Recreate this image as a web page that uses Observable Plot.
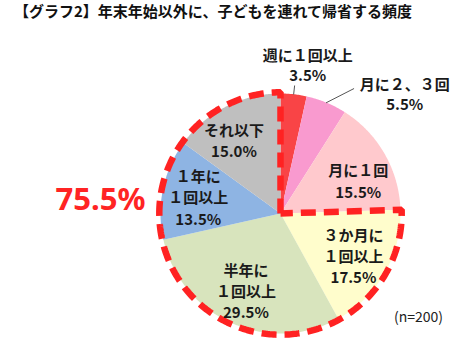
<!DOCTYPE html>
<html>
<head>
<meta charset="utf-8">
<script src="https://cdn.jsdelivr.net/npm/d3@7"></script>
<script src="https://cdn.jsdelivr.net/npm/@observablehq/plot@0.6"></script>
<style>
  html, body { margin: 0; padding: 0; background: #fff; }
  #title { height: 40px; line-height: 44px; padding-left: 14px; font: bold 15px "Noto Sans CJK JP", sans-serif; color: #111; white-space: nowrap; }
  #chart svg { display: block; }
</style>
</head>
<body>
<div id="title">【グラフ2】年末年始以外に、子どもを連れて帰省する頻度</div>
<div id="chart"></div>
<script>
// ---- data ----
const categories = ["週に1回以上", "月に2、3回", "月に1回", "3か月に1回以上", "半年に1回以上", "1年に1回以上", "それ以下"];
const labelTexts = ["週に１回以上", "月に２、３回", "月に１回", "３か月に\n１回以上", "半年に\n１回以上", "１年に\n１回以上", "それ以下"];
const values = [3.5, 5.5, 15.5, 17.5, 29.5, 13.5, 15.0];
const colors = ["#F94446", "#F99ACF", "#FFC9CD", "#FFFDCC", "#D8E4BD", "#8EB4E3", "#BFBFBF"];
const highlightedCategories = ["3か月に1回以上", "半年に1回以上", "1年に1回以上", "それ以下"];
const sampleNote = "(n=200)";

// ---- geometry helpers ----
const total = d3.sum(values);
const toRad = (p) => (p / total) * 2 * Math.PI; // clockwise from 12 o'clock
const pt = (a, r) => ({x: r * Math.sin(a), y: r * Math.cos(a)});

let cum = 0;
const slices = values.map((v, i) => {
  const a0 = toRad(cum); cum += v; const a1 = toRad(cum);
  return {cat: categories[i], label: labelTexts[i], value: v, a0, a1, mid: (a0 + a1) / 2};
});

const slicePoints = [];
for (const s of slices) {
  slicePoints.push({cat: s.cat, ...pt(0, 0)});
  const n = Math.max(4, Math.ceil((s.a1 - s.a0) / 0.01));
  for (let k = 0; k <= n; k++) slicePoints.push({cat: s.cat, ...pt(s.a0 + (s.a1 - s.a0) * k / n, 1)});
  slicePoints.push({cat: s.cat, ...pt(0, 0)});
}

// dashed outline around the highlighted share
const hl = slices.filter(s => highlightedCategories.includes(s.cat));
const hlStart = d3.min(hl, s => s.a0), hlEnd = d3.max(hl, s => s.a1);
const hlShare = d3.sum(hl, s => s.value);
const outline = [pt(0, 0)];
{
  const R = 1.01, n = 300;
  for (let k = 0; k <= n; k++) outline.push(pt(hlEnd - (hlEnd - hlStart) * k / n, R));
  outline.push(pt(0, 0));
  outline.push(pt(hlEnd, 0.0));
}

// inner labels
const inner = slices.slice(2).map(s => {
  const p = pt(s.mid, 0.7);
  return {...p, text: s.label + "\n" + s.value.toFixed(1) + "%", cat: s.cat};
});
const nudge = {"月に1回": [0.04, -0.07], "それ以下": [-0.07, -0.01]};
inner.forEach(d => { if (nudge[d.cat]) { d.x += nudge[d.cat][0]; d.y += nudge[d.cat][1]; } });

// outer labels with leader lines
const s0 = slices[0], s1 = slices[1];
const outer = [
  {...pt(s0.mid, 1.25), x: pt(s0.mid, 1.25).x + 0.09, text: s0.label + "\n" + s0.value.toFixed(1) + "%"},
  {x: 1.035, y: 1.0, text: s1.label + "\n" + s1.value.toFixed(1) + "%"}
];
const leaders = [
  {g: 0, ...pt(s0.mid, 1.0)}, {g: 0, ...pt(s0.mid, 1.07)},
  {g: 1, ...pt(s1.mid, 1.0)}, {g: 1, x: 0.61, y: 1.04}
];

const font = '"Noto Sans CJK JP", sans-serif';
const W = 463, H = 313, CX = 280, CY = 173, RPX = 120;

const chart = Plot.plot({
  width: W, height: H,
  margin: 0,
  x: {domain: [-CX / RPX, (W - CX) / RPX], axis: null},
  y: {domain: [-(H - CY) / RPX, CY / RPX], axis: null},
  color: {domain: categories, range: colors},
  style: {background: "#fff"},
  marks: [
    Plot.line(slicePoints, {x: "x", y: "y", z: "cat", fill: "cat", stroke: "none", curve: "linear"}),
    Plot.line(outline, {x: "x", y: "y", stroke: "#FF2222", strokeWidth: 6.5, strokeDasharray: "15,8", fill: "none", strokeLinecap: "butt", strokeLinejoin: "miter"}),
    Plot.line(leaders, {x: "x", y: "y", z: "g", stroke: "#555", strokeWidth: 1}),
    Plot.text(inner, {x: "x", y: "y", text: "text", fontSize: 15, fontWeight: "bold", fontFamily: font, fill: "#1a1a1a", lineHeight: 1.42}),
    Plot.text(outer, {x: "x", y: "y", text: "text", fontSize: 15, fontWeight: "bold", fontFamily: font, fill: "#1a1a1a", lineHeight: 1.35}),
    Plot.text([hlShare.toFixed(1) + "%"], {x: -1.5, y: 0.11, text: d => d, fontSize: 31, fontWeight: "bold", fontFamily: '"Noto Sans", sans-serif', fill: "#FF2424"}),
    Plot.text([sampleNote], {x: 1.15, y: -0.867, text: d => d, fontSize: 14, fontFamily: font, fill: "#222"})
  ]
});
document.getElementById("chart").appendChild(chart);
</script>
</body>
</html>
